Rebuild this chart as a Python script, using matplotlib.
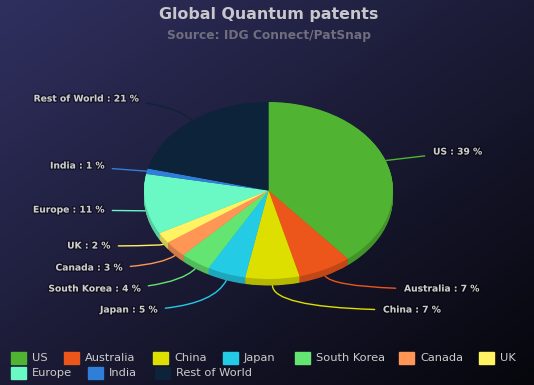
import numpy as np
import matplotlib.pyplot as plt
import matplotlib.patheffects as pe
from matplotlib.patches import Rectangle

# data
countries = ['US', 'Australia', 'China', 'Japan', 'South Korea', 'Canada',
             'UK', 'Europe', 'India', 'Rest of World']
shares = [39, 7, 7, 5, 4, 3, 2, 11, 1, 21]
colors = ['#50B432', '#ED561B', '#DDDF00', '#24CBE5', '#64E572', '#FF9655',
          '#FFF263', '#6AF9C4', '#2f7ed8', '#0d233a']

W, H = 534, 385
fig = plt.figure(figsize=(W / 100, H / 100), dpi=100)

# background, diagonal gradient
bg = fig.add_axes([0, 0, 1, 1])
yy, xx = np.mgrid[0:H, 0:W]
t = (xx / W + yy / H) / 2
c0 = np.array([48, 48, 96]) / 255
c1 = np.array([6, 6, 12]) / 255
img = c0[None, None, :] * (1 - t[..., None]) + c1[None, None, :] * t[..., None]
bg.imshow(img, extent=(0, W, H, 0), aspect='auto', zorder=0)
bg.set_xlim(0, W)
bg.set_ylim(H, 0)
bg.axis('off')

bg.text(269, 15, 'Global Quantum patents', ha='center', va='center',
        fontsize=11.4, fontweight='bold', color='#C8C8CC')
bg.text(269, 36, 'Source: IDG Connect/PatSnap', ha='center', va='center',
        fontsize=8.8, fontweight='bold', color='#6e6e7e')

# pie, squashed into an ellipse with a small extrusion
cx, cy, rx, ry = 268.5, 190.5, 124.5, 88.5
depth = 6.5 / ry
ax = fig.add_axes([(cx - rx) / W, (H - (cy + ry)) / H, 2 * rx / W, 2 * ry / H])
ax.set_facecolor('none')


def shade(c, f):
    r, g, b = [int(c[i:i + 2], 16) / 255 for i in (1, 3, 5)]
    return (r * f, g * f, b * f)


side = [shade(c, 0.82) for c in colors]
for off in np.linspace(depth, 0.005, 12):
    ax.pie(shares, colors=side, startangle=90, counterclock=False,
           center=(0, -off), wedgeprops={'clip_on': False, 'linewidth': 0})
ax.pie(shares, colors=colors, startangle=90, counterclock=False,
       wedgeprops={'clip_on': False, 'linewidth': 0})
ax.set_aspect('auto')
ax.set_xlim(-1, 1)
ax.set_ylim(-1, 1)
ax.axis('off')

# data labels
label_pos = [(433, 152, 'left'), (404, 289, 'left'), (383, 310, 'left'),
             (157, 310, 'right'), (140, 289, 'right'), (122, 268, 'right'),
             (110, 246, 'right'), (104, 210, 'right'), (104, 166, 'right'),
             (138, 99, 'right')]
shadow = [pe.withStroke(linewidth=2, foreground='#000000', alpha=0.45)]
cum = 0
for name, v, col, (lx, ly, ha) in zip(countries, shares, colors, label_pos):
    th = np.radians(90 - 360 * (cum + v / 2) / 100)
    cum += v
    ex, ey = np.cos(th), np.sin(th)
    if ey < 0:
        ey -= depth
    ang = np.degrees(np.arctan2(ry * np.sin(th), rx * np.cos(th)))
    a = abs(((ang + 90) % 180) - 90)
    if a > 15:
        cs = 'angle3,angleA=0,angleB=%.1f' % ang
    else:
        cs = 'arc3,rad=0'
    bg.annotate(f'{name} : {v} %', xy=(ex, ey), xycoords=ax.transData,
                xytext=(lx, ly), textcoords='data', ha=ha, va='center',
                fontsize=6.6, fontweight='bold', color='#CCCCCC',
                path_effects=shadow,
                arrowprops=dict(arrowstyle='-', color=col, lw=1,
                                shrinkA=4, shrinkB=0, connectionstyle=cs))

# legend
legend_pos = [(11, 358), (64, 358), (153, 358), (223, 358), (295, 358),
              (399, 358), (479, 358), (11, 373), (88, 373), (155, 373)]
for name, col, (lx, ly) in zip(countries, colors, legend_pos):
    bg.add_patch(Rectangle((lx, ly - 6), 15, 12, color=col, zorder=3))
    bg.text(lx + 21, ly, name, ha='left', va='center', fontsize=8.2,
            color='#CCCCCC', zorder=3)

fig.savefig('out.png', dpi=100)
